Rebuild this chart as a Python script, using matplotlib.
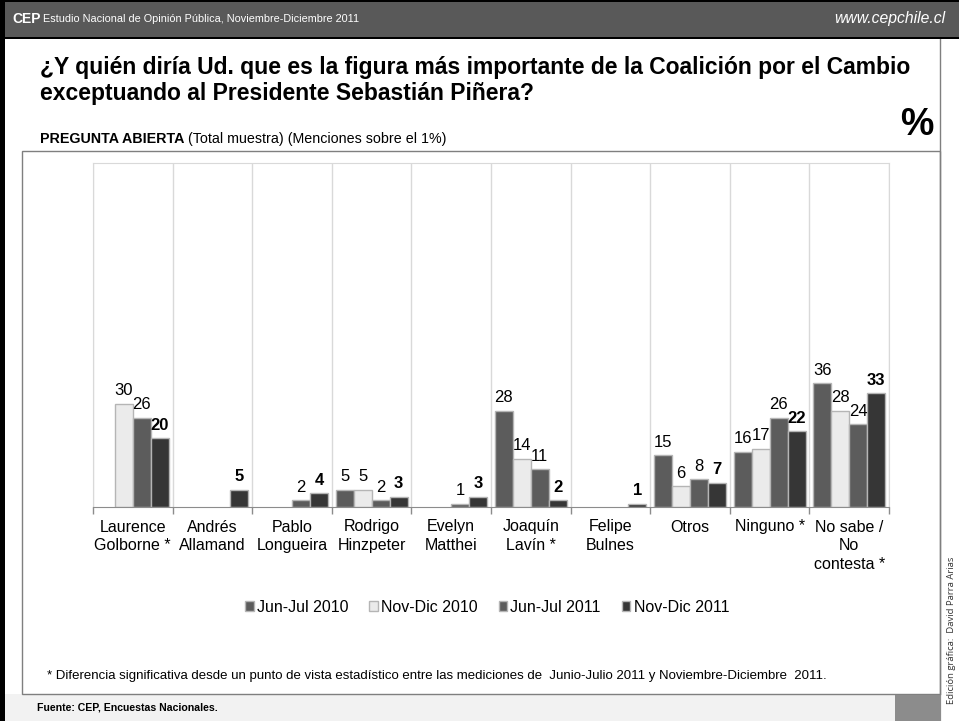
import numpy as np
import matplotlib
matplotlib.use("Agg")
import matplotlib.pyplot as plt
from matplotlib.patches import Rectangle
from matplotlib.text import Annotation

plt.rcParams['font.family'] = ['Liberation Sans', 'DejaVu Sans']

# ---- data -------------------------------------------------------------
categories = [
    "Laurence\nGolborne *", "Andrés\nAllamand", "Pablo\nLongueira",
    "Rodrigo\nHinzpeter", "Evelyn\nMatthei", "Joaquín\nLavín *",
    "Felipe\nBulnes", "Otros", "Ninguno *", "No sabe /\nNo\ncontesta *",
]
series_names = ["Jun-Jul 2010", "Nov-Dic 2010", "Jun-Jul 2011", "Nov-Dic 2011"]
nan = np.nan
jun_jul_2010 = [nan, nan, nan, 5, nan, 28, nan, 15, 16, 36]
nov_dic_2010 = [30, nan, nan, 5, nan, 14, nan, 6, 17, 28]
jun_jul_2011 = [26, nan, 2, 2, 1, 11, nan, 8, 26, 24]
nov_dic_2011 = [20, 5, 4, 3, 3, 2, 1, 7, 22, 33]
series_values = [jun_jul_2010, nov_dic_2010, jun_jul_2011, nov_dic_2011]
series_colors = ["#5c5c5c", "#ebebeb", "#5c5c5c", "#363636"]

# ---- figure in pixel units ---------------------------------------------
W, H = 959, 721
fig = plt.figure(figsize=(W / 100, H / 100), dpi=100)
fig.patch.set_facecolor("white")


def fx(x):
    return x / W


def fy(y):
    return 1 - y / H


def rect(x0, y0, x1, y1, **kw):
    r = Rectangle((fx(x0), fy(y1)), (x1 - x0) / W, (y1 - y0) / H,
                  transform=fig.transFigure, **kw)
    fig.add_artist(r)
    return r


# slide decoration
rect(5, 694, 942, 721, facecolor="#f2f2f2", edgecolor="none", zorder=-5)
rect(22, 151, 940, 694, facecolor="white", edgecolor="#7f7f7f", lw=1, zorder=-4)
rect(895, 695, 941, 721, facecolor="#8c8c8c", edgecolor="none", zorder=-3)
rect(0, 0, W, 37, facecolor="#595959", edgecolor="none", zorder=-2)
rect(0, 0, W, 1.5, facecolor="black", edgecolor="none", zorder=-2)
rect(0, 37, W, 39, facecolor="black", edgecolor="none", zorder=-2)
rect(0, 0, 5, H, facecolor="black", edgecolor="none", zorder=-1)
fig.add_artist(plt.Line2D([fx(940), fx(940)], [fy(39), fy(694)],
                          transform=fig.transFigure, color="#7f7f7f", lw=1, zorder=-3))

# header
fig.text(fx(12), fy(19), "CEP", color="white", fontsize=10, fontweight="bold",
         va="center", ha="left")
fig.text(fx(43), fy(19), "Estudio Nacional de Opinión Pública, Noviembre-Diciembre 2011",
         color="white", fontsize=7.8, va="center", ha="left")
fig.text(fx(945), fy(19), "www.cepchile.cl", color="white", fontsize=11.3,
         style="italic", va="center", ha="right")

# title
fig.text(fx(40), fy(56), "¿Y quién diría Ud. que es la figura más importante de la Coalición por el Cambio\n"
         "exceptuando al Presidente Sebastián Piñera?",
         fontsize=16.5, fontweight="bold", va="top", ha="left", linespacing=1.17)
fig.text(fx(917), fy(125), "%", fontsize=27, fontweight="bold", va="center", ha="center")
t1 = fig.text(fx(40), fy(143), "PREGUNTA ABIERTA", fontsize=10.3, fontweight="bold",
              va="baseline", ha="left")
fig.add_artist(Annotation(
    " (Total muestra) (Menciones sobre el 1%)", xy=(1, 0), xycoords=t1,
    fontsize=10.3, va="bottom", ha="left"))

# footnote and source
fig.text(fx(47), fy(676), "* Diferencia significativa desde un punto de vista estadístico entre las "
         "mediciones de  Junio-Julio 2011 y Noviembre-Diciembre  2011.",
         fontsize=9.5, va="center", ha="left")
fig.text(fx(37), fy(707), "Fuente: CEP, Encuestas Nacionales.", fontsize=7.6,
         fontweight="bold", va="center", ha="left")
fig.text(fx(951), fy(630), "Edición gráfica:  David Parra Arias", fontsize=6.8,
         family=["Open Sans", "DejaVu Sans"], rotation=90, va="center", ha="center",
         color="#333333")

# ---- chart -------------------------------------------------------------
ax = fig.add_axes([fx(93), fy(507), (889 - 93) / W, (507 - 163) / H])
ax.set_facecolor("white")
x = np.arange(len(categories))
bw = 0.226
containers = []
for k, (vals, col, name) in enumerate(zip(series_values, series_colors, series_names)):
    pos = x + (k - 1.5) * bw
    bc = ax.bar(pos, vals, width=bw, color=col, edgecolor="#b5b5b5", linewidth=1,
                label=name, zorder=3)
    containers.append(bc)
    for px, v in zip(pos, vals):
        if np.isnan(v):
            continue
        ax.annotate(f"{v:g}", xy=(px, v), xytext=(0, 4), textcoords="offset points",
                    ha="center", va="bottom", fontsize=12,
                    fontweight="bold" if k == 3 else "normal", zorder=4)

ax.set_xlim(-0.5, len(categories) - 0.5)
ax.set_ylim(0, 100)
ax.set_yticks([])
ax.set_xticks(x)
ax.set_xticklabels(categories, fontsize=11.5, linespacing=1.33)
ax.tick_params(axis="x", which="major", length=0, pad=9)
ax.set_xticks(np.arange(-0.5, len(categories), 1), minor=True)
ax.tick_params(axis="x", which="minor", length=5, color="#8c8c8c", width=1)
ax.grid(which="minor", axis="x", color="#d9d9d9", lw=1)
ax.set_axisbelow(True)
for side in ("left", "top", "right"):
    ax.spines[side].set_color("#d9d9d9")
ax.spines["bottom"].set_color("#8c8c8c")
ax.spines["bottom"].set_zorder(5)

fig.legend(handles=containers, labels=series_names, loc="center",
           bbox_to_anchor=(fx(487), fy(607)), ncol=4, frameon=False, fontsize=11.5,
           handlelength=0.55, handleheight=0.55, handletextpad=0.2, columnspacing=1.3)

fig.savefig("out.png", dpi=100)
